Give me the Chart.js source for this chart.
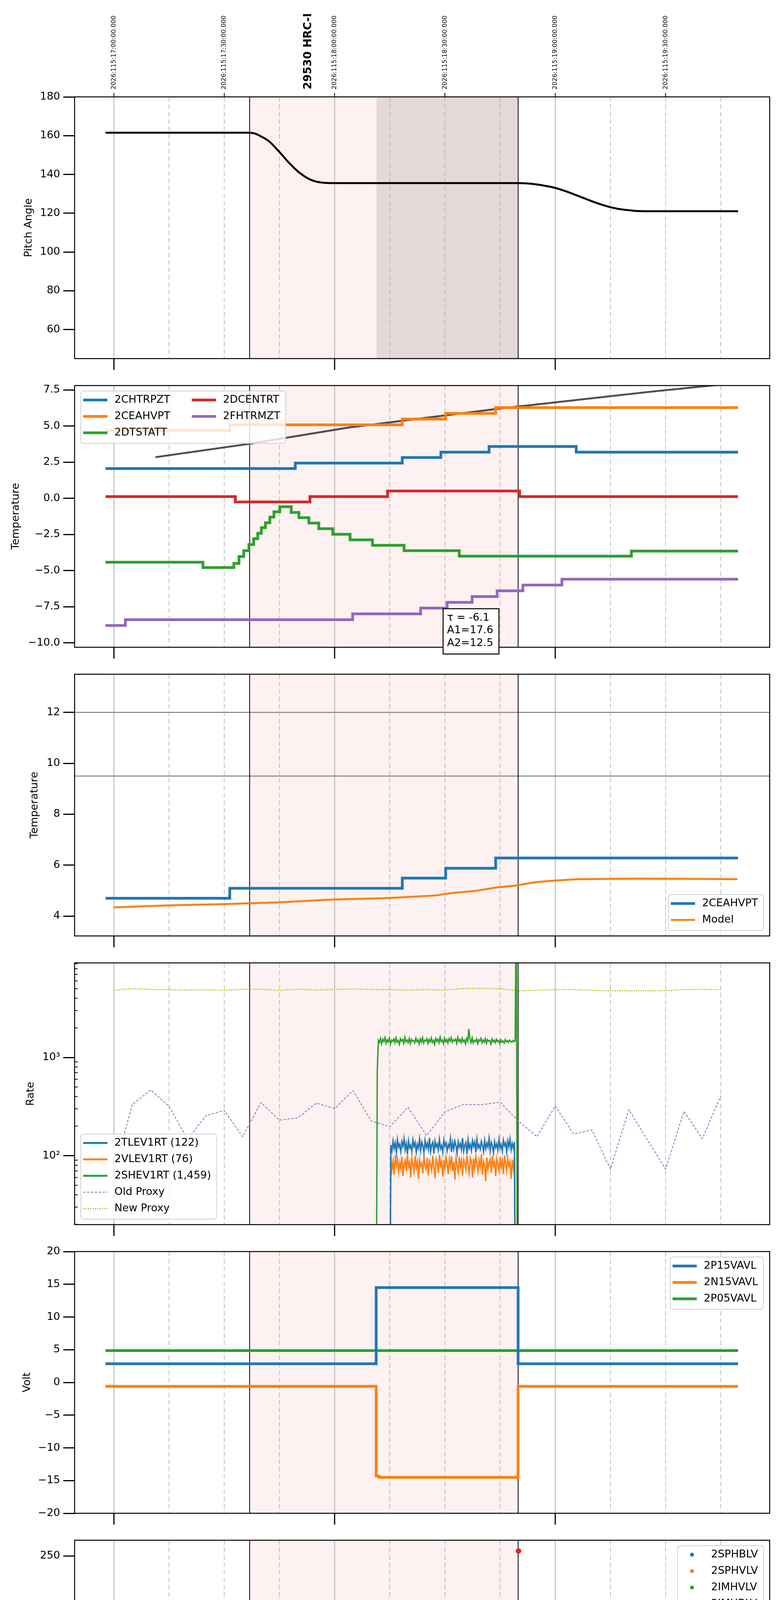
<!DOCTYPE html>
<html>
<head>
<meta charset="utf-8">
<script src="https://cdn.jsdelivr.net/npm/chart.js@4.4.0/dist/chart.umd.min.js"></script>
<style>
html, body { margin: 0; padding: 0; background: #fff; }
#page { position: relative; width: 2000px; height: 6200px; }
#page canvas { position: absolute; left: 0; }
</style>
</head>
<body>
<div id="page"></div>
<script>
// time axis: minutes after 13:00 local (= 17:00 on board)
const X_MIN = -10.7, X_MAX = 178.3;
const HOUR_TICKS = [0, 60, 120];
const HOUR_LABELS = ['13h', '14h', '15h'];
const QUARTER_TICKS = [15, 30, 45, 75, 90, 105, 135, 150, 165];
const QUARTER_LABELS = ['15', '30', '45', '15', '30', '45', '15', '30', '45'];
const TOP_TICKS = [0, 30, 60, 90, 120, 150];
const TOP_LABELS = ['2026:115:17:00:00.000', '2026:115:17:30:00.000', '2026:115:18:00:00.000',
                    '2026:115:18:30:00.000', '2026:115:19:00:00.000', '2026:115:19:30:00.000'];
const X_TITLE = '2026-04-25 (115)';
const OBS_TITLE = '29530 HRC-I';
const OBS_TITLE_AT = 52.9;
const WINDOW = [36.9, 109.9];
const SLEW_WINDOW = [71.4, 109.9];

// pitch
const pitchT = [-2.3, 36.8, 38.5, 39.4, 42.1, 44.7, 47.6, 50.3, 53.0, 55.0, 57.0, 60.0, 110.0, 112.6,
                114.6, 117.0, 119.9, 123.0, 126.1, 128.8, 131.5, 134.2, 136.9, 139.6, 142.4, 146.0, 169.7];
const pitchV = [161.5, 161.5, 161.0, 160.2, 157.2, 152.2, 146.0, 141.1, 137.7, 136.3, 135.7, 135.5, 135.5, 135.3,
                134.9, 134.2, 133.1, 131.2, 129.0, 127.0, 125.1, 123.5, 122.3, 121.6, 121.1, 121.0, 121.0];

// temperatures (step telemetry: time of change, new value)
const chtrpztT = [-2.3, 49.3, 78.4, 88.9, 102.0, 125.7, 169.7];
const chtrpztV = [2.06, 2.44, 2.83, 3.2, 3.59, 3.2, 3.2];
const ceahvptT = [-2.3, 31.5, 78.4, 90.2, 103.8, 169.7];
const ceahvptV = [4.70, 5.09, 5.49, 5.88, 6.28, 6.28];
const dtstattT = [-2.3, 24.2, 32.6, 34.0, 35.3, 36.7, 38.0, 39.1, 40.1, 41.2, 42.4, 43.5, 45.1, 48.2,
                  50.3, 53.0, 55.7, 59.5, 64.2, 70.3, 78.9, 93.9, 140.7, 169.7];
const dtstattV = [-4.42, -4.79, -4.5, -4.03, -3.62, -3.2, -2.79, -2.42, -2.03, -1.69, -1.3, -0.93, -0.58, -0.97,
                  -1.34, -1.71, -2.1, -2.49, -2.87, -3.25, -3.62, -4.0, -3.65, -3.65];
const dcentrtT = [-2.3, 33.0, 53.3, 74.4, 110.3, 169.7];
const dcentrtV = [0.12, -0.25, 0.12, 0.51, 0.12, 0.12];
const fhtrmztT = [-2.3, 3.1, 64.9, 83.4, 90.6, 97.4, 104.2, 111.2, 121.8, 169.7];
const fhtrmztV = [-8.8, -8.4, -8.0, -7.6, -7.2, -6.8, -6.4, -6.0, -5.6, -5.6];
const fitT = [11.3, 36.7, 63.8, 104.4, 145.1, 164.0];
const fitV = [2.85, 3.77, 4.9, 6.2, 7.36, 7.85];
const FIT_NOTE = ['\u03c4 = -6.1', 'A1=17.6', 'A2=12.5'];
const modelT = [-0.1, 15.0, 30.0, 44.8, 59.7, 74.6, 87.5, 92.2, 98.4, 103.8, 109.2, 114.6, 119.4, 126.1, 142.4, 158.6, 169.5];
const modelV = [4.34, 4.42, 4.47, 4.54, 4.65, 4.71, 4.81, 4.91, 4.99, 5.12, 5.20, 5.33, 5.39, 5.45, 5.47, 5.46, 5.45];
const LIMITS_T = [12, 9.5];

// rates, sampled every 0.3 min
const RATE_DT = 0.3;
const TLEV_T0 = 75.0;
const tlev1rt = [1, 128, 112, 141, 118, 135, 108, 146, 122, 131,
  110, 139, 125, 150, 115, 133, 104, 142, 120, 128,
  111, 145, 124, 136, 109, 131, 119, 148, 113, 138,
  126, 107, 143, 121, 134, 116, 152, 110, 129, 137,
  105, 140, 123, 132, 114, 147, 118, 127, 108, 144,
  125, 135, 112, 130, 121, 149, 109, 137, 117, 141,
  126, 106, 139, 122, 133, 115, 151, 111, 128, 136,
  104, 145, 119, 131, 113, 142, 124, 138, 108, 147,
  120, 129, 116, 140, 127, 110, 143, 118, 134, 122,
  150, 112, 137, 125, 107, 139, 121, 132, 114, 146,
  119, 130, 111, 144, 126, 135, 109, 141, 123, 148,
  115, 133, 120, 138, 1];
const vlev1rt = [1, 96, 72, 88, 64, 101, 79, 92, 68, 85,
  74, 98, 62, 83, 90, 70, 103, 77, 86, 60,
  94, 81, 69, 99, 75, 87, 58, 91, 78, 84,
  66, 97, 80, 73, 95, 63, 89, 82, 71, 100,
  76, 59, 93, 85, 67, 102, 79, 88, 61, 90,
  74, 96, 83, 65, 92, 78, 99, 70, 86, 57,
  94, 81, 68, 97, 76, 89, 63, 91, 84, 72,
  101, 79, 66, 95, 87, 60, 93, 75, 98, 82,
  69, 90, 77, 103, 64, 88, 80, 55, 96, 73,
  85, 92, 67, 99, 78, 86, 62, 94, 81, 71,
  97, 76, 89, 65, 100, 83, 70, 93, 79, 87,
  58, 91, 74, 96, 1];
const SHEV_T0 = 71.3;
const shev1rt = [1, 720, 1490, 1420, 1560, 1380, 1530, 1450, 1590, 1400,
  1510, 1440, 1570, 1370, 1500, 1460, 1540, 1410, 1580, 1430,
  1490, 1360, 1550, 1470, 1520, 1390, 1600, 1440, 1500, 1420,
  1560, 1380, 1530, 1460, 1490, 1410, 1570, 1450, 1510, 1370,
  1540, 1430, 1590, 1400, 1500, 1470, 1550, 1390, 1520, 1440,
  1580, 1420, 1490, 1360, 1560, 1460, 1530, 1410, 1610, 1450,
  1500, 1380, 1570, 1440, 1520, 1400, 1550, 1470, 1590, 1430,
  1510, 1480, 1540, 1390, 1600, 1450, 1520, 1410, 1570, 1440,
  1500, 1370, 1560, 1460, 1950, 1530, 1420, 1580, 1400, 1490,
  1450, 1540, 1380, 1510, 1470, 1560, 1410, 1500, 1430, 1550,
  1390, 1520, 1460, 1480, 1370, 1540, 1440, 1500, 1410, 1530,
  1450, 1490, 1380, 1510, 1430, 1470, 1400, 1520, 1440, 1480,
  1420, 1500, 1460, 1430, 1490, 1450, 1470, 60000, 1];
// proxies, every 5 min from 13:00
const PROXY_T0 = 0, PROXY_DT = 5;
const oldProxy = [70, 332, 466, 318, 146, 256, 289, 156, 347, 230, 243, 343, 302, 459, 225, 198, 311,
                  160, 280, 332, 330, 350, 225, 156, 321, 166, 183, 73, 294, 146, 73, 283, 149, 407];
const newProxy = [4840, 5030, 4920, 4880, 4860, 4880, 4800, 4940, 4940, 4800, 4940, 4840, 4920, 4965, 4920, 4900, 4840,
                  4900, 4840, 5030, 5030, 5000, 4760, 4820, 4880, 4900, 4820, 4760, 4760, 4760, 4780, 4920, 4920, 4900];
const RATE_MAJOR = [100, 1000];
const RATE_MINOR = [20, 30, 40, 50, 60, 70, 80, 90, 200, 300, 400, 500, 600, 700, 800, 900,
                    2000, 3000, 4000, 5000, 6000, 7000, 8000, 9000];

// voltages
const p15vavlT = [-2.3, 71.3, 109.9, 169.7];
const p15vavlV = [2.85, 14.5, 2.85, 2.85];
const n15vavlT = [-2.3, 71.3, 72.0, 109.9, 169.7];
const n15vavlV = [-0.6, -14.3, -14.5, -0.6, -0.6];
const p05vavlT = [-2.3, 169.7];
const p05vavlV = [4.87, 4.87];

// HV monitor
const imhblvT = [72.7, 72.75, 73.1, 73.9, 74.6, 75.2, 75.7, 110.0];
const imhblvV = [126.6, 119.1, 105.4, 101.1, 97.0, 92.9, 89.1, 255.1];
const imhvlvT = [73.0, 73.7, 74.4, 75.0, 75.7];
const imhvlvV = [99.3, 95.1, 89.9, 85.8, 82.4];
const HV_T0 = 76.0, HV_DT = 0.5;
const imhblvSteady = [85.2, 85.2, 85.2, 85.2, 85.2, 85.2, 85.2, 85.2, 85.2, 85.2,
  85.2, 85.2, 85.2, 85.2, 85.2, 85.2, 85.2, 85.2, 85.2, 85.2,
  85.2, 85.2, 85.2, 85.2, 85.2, 85.2, 85.2, 85.2, 85.2, 85.2,
  85.2, 85.2, 85.2, 85.2, 85.2, 85.2, 85.2, 85.2, 85.2, 85.2,
  85.2, 85.2, 85.2, 85.2, 85.2, 85.2, 85.2, 85.2, 85.2, 85.2,
  85.2, 85.2, 85.2, 85.2, 85.2, 85.2, 85.2, 85.2, 85.2, 85.2,
  85.2, 85.2, 85.2, 85.2, 85.2, 85.2, 85.2, 85.2];
const imhvlvSteady = [78.8, 78.8, 78.8, 78.8, 78.8, 78.8, 78.8, 78.8, 78.8, 78.8,
  78.8, 78.8, 78.8, 78.8, 78.8, 78.8, 78.8, 78.8, 78.8, 78.8,
  78.8, 78.8, 78.8, 78.8, 78.8, 78.8, 78.8, 78.8, 78.8, 78.8,
  78.8, 78.8, 78.8, 78.8, 78.8, 78.8, 78.8, 78.8, 78.8, 78.8,
  78.8, 78.8, 78.8, 78.8, 78.8, 78.8, 78.8, 78.8, 78.8, 78.8,
  78.8, 78.8, 78.8, 78.8, 78.8, 78.8, 78.8, 78.8, 78.8, 78.8,
  78.8, 78.8, 78.8, 78.8, 78.8, 78.8, 78.8, 78.8];

// detector temps
const spinatmT = [72.2, 72.5, 74.4, 88.8, 109.3];
const spinatmV = [2.68, 3.17, 2.68, 2.2, 2.2];
const sphvatmT = [71.5, 71.7, 105.1, 109.3];
const sphvatmV = [12.7, 13.28, 13.61, 13.61];
const iminatmT = [71.5, 93.6, 109.3];
const iminatmV = [-0.54, -0.09, -0.09];
const imhvatmT = [71.4, 71.5, 82.5, 88.5, 94.3, 100.4, 106.9, 110.0, 110.5];
const imhvatmV = [-30, 12.61, 12.95, 13.28, 13.61, 13.98, 14.3, 60, -30];

// FEA temps
const fradpytT = [-2.3, 12.3, 57.0, 77.1, 84.3, 90.6, 97.0, 103.8, 110.0, 146.8, 167.4, 169.7];
const fradpytV = [-10.49, -10.07, -9.65, -9.22, -8.81, -8.4, -8.0, -7.59, -7.19, -7.59, -8.0, -8.0];
const fepratmT = [71.3, 71.35, 74.0, 76.4, 78.7, 82.1, 85.5, 89.9, 94.7, 100.4, 106.1, 109.4, 109.5];
const fepratmV = [-9.26, -8.55, -8.14, -7.71, -7.30, -6.88, -6.47, -6.05, -5.63, -5.22, -4.79, -7.0, -7.0];
const fe00atmT = [71.4, 71.5, 78.7, 81.1, 81.2, 84.1, 89.3, 91.5, 91.6, 93.9, 95.4, 95.5, 98.7, 103.5,
                  106.2, 106.3, 108.5, 110.0, 110.5];
const fe00atmV = [-20, -9.32, -8.94, -9.71, -8.94, -8.58, -8.21, -8.6, -8.21, -7.85, -7.47, -7.85, -7.49, -7.11,
                  -7.5, -7.11, -6.76, -2, -20];

const BLUE = '#1f77b4', ORANGE = '#ff7f0e', GREEN = '#2ca02c', RED = '#d62728', PURPLE = '#9467bd', OLIVE = '#bcbd22';
const FONT = 'DejaVu Sans';
const PANEL_TOP = [248, 987, 1726, 2465, 3204, 3943, 4681, 5420];
const PANEL_H = 670;

Chart.defaults.font.family = FONT;
Chart.defaults.color = '#000';

const pts = (ts, vs) => ts.map((t, i) => ({x: t, y: vs[i]}));
const cadence = (t0, dt, vs) => vs.map((v, i) => ({x: t0 + i * dt, y: v}));

function line(label, data, color, width, extra) {
  return Object.assign({label, data, borderColor: color, backgroundColor: color, borderWidth: width,
    pointRadius: 0, fill: false, tension: 0, clip: 0}, extra || {});
}
// value holds from its own time until the next sample
const step = (label, ts, vs, color, width) => line(label, pts(ts, vs), color, width || 7, {stepped: 'before'});
function dots(label, data, color) {
  return {label, data, showLine: false, pointRadius: 7, pointHoverRadius: 7, pointBorderWidth: 0,
    backgroundColor: color, borderColor: color};
}

const minus = s => s.replace('-', '\u2212');
const fmtInt = v => minus(String(v));
const fmt1 = v => minus(v.toFixed(1));
const fmtPow = v => (v === 100 ? '10\u00b2' : v === 1000 ? '10\u00b3' : '');

function yAxis(min, max, ticks, fmt, title, titleX, type) {
  return {
    type: type || 'linear', min, max,
    afterFit: s => { s.width = 191; },
    afterBuildTicks: s => { s.ticks = ticks.map(v => ({value: v})); },
    ticks: {callback: fmt, font: {size: 27}, color: '#000', padding: 8, autoSkip: false},
    grid: {drawOnChartArea: false, drawTicks: true, tickLength: 29, tickWidth: 3, tickColor: '#000', lineWidth: 3},
    border: {display: false},
    title: {display: true, text: title, font: {size: 27}, color: '#000', padding: {top: titleX - 16.2, bottom: 0}}
  };
}

function drawLegend(chart, lg) {
  const {ctx, chartArea: a} = chart;
  const items = chart.data.datasets.filter(d => d.label);
  const ncol = lg.ncol || 1;
  const nrow = Math.ceil(items.length / ncol);
  ctx.save();
  ctx.font = '27px "' + FONT + '"';
  const cols = [];
  for (let c = 0; c < ncol; c++) cols.push(items.slice(c * nrow, (c + 1) * nrow));
  const colW = cols.map(col => Math.max(...col.map(d => ctx.measureText(d.label).width)));
  let w = 6;
  colW.forEach((cw, c) => { w += 80 + cw + (c < ncol - 1 ? 55 : 14); });
  const h = 23 + (nrow - 1) * 42 + 27;
  const bx = lg.loc[1] === 'l' ? a.left + 16 : a.right - 16 - w;
  const by = lg.loc[0] === 'u' ? a.top + 14 : a.bottom - 14 - h;
  ctx.beginPath();
  ctx.roundRect(bx, by, w, h, 7);
  ctx.fillStyle = 'rgba(255,255,255,0.8)';
  ctx.fill();
  ctx.strokeStyle = 'rgba(204,204,204,0.9)';
  ctx.lineWidth = 2;
  ctx.stroke();
  let cx = bx + 6;
  cols.forEach((col, c) => {
    col.forEach((d, r) => {
      const cy = by + 23 + r * 42;
      if (d.showLine === false) {
        ctx.fillStyle = d.backgroundColor;
        ctx.beginPath();
        ctx.arc(cx + 31, cy, 5, 0, Math.PI * 2);
        ctx.fill();
      } else {
        ctx.strokeStyle = d.borderColor;
        ctx.lineWidth = d.legendWidth || d.borderWidth;
        ctx.setLineDash(d.borderDash || []);
        ctx.beginPath();
        ctx.moveTo(cx, cy);
        ctx.lineTo(cx + 62, cy);
        ctx.stroke();
        ctx.setLineDash([]);
      }
      ctx.fillStyle = '#000';
      ctx.textAlign = 'left';
      ctx.textBaseline = 'middle';
      ctx.fillText(d.label, cx + 80, cy);
    });
    cx += 80 + colW[c] + 55;
  });
  ctx.restore();
}

const panelDecor = {
  id: 'panelDecor',
  beforeDatasetsDraw(chart, args, o) {
    const {ctx, chartArea: a, scales: {x, y}} = chart;
    const px = v => x.getPixelForValue(v);
    const vline = xp => { ctx.beginPath(); ctx.moveTo(xp, a.top); ctx.lineTo(xp, a.bottom); ctx.stroke(); };
    ctx.save();
    ctx.beginPath();
    ctx.rect(a.left, a.top, a.width, a.height);
    ctx.clip();
    ctx.fillStyle = '#fdf1f1';
    ctx.fillRect(px(WINDOW[0]), a.top, px(WINDOW[1]) - px(WINDOW[0]), a.height);
    if (o.slew) {
      ctx.fillStyle = '#e4d9d9';
      ctx.fillRect(px(SLEW_WINDOW[0]), a.top, px(SLEW_WINDOW[1]) - px(SLEW_WINDOW[0]), a.height);
    }
    ctx.strokeStyle = '#b0b0b0';
    ctx.lineWidth = 2;
    HOUR_TICKS.forEach(t => vline(px(t)));
    ctx.lineWidth = 1.6;
    ctx.setLineDash([12, 7]);
    QUARTER_TICKS.forEach(t => vline(px(t)));
    ctx.setLineDash([]);
    (o.hlines || []).forEach(v => {
      const yp = y.getPixelForValue(v);
      ctx.strokeStyle = '#808080';
      ctx.lineWidth = 2.5;
      ctx.beginPath(); ctx.moveTo(a.left, yp); ctx.lineTo(a.right, yp); ctx.stroke();
    });
    ctx.strokeStyle = '#000';
    ctx.lineWidth = 2;
    WINDOW.forEach(t => vline(px(t)));
    ctx.restore();
  },
  afterDatasetsDraw(chart, args, o) {
    const {ctx, chartArea: a, scales: {x, y}} = chart;
    const px = v => x.getPixelForValue(v);
    ctx.save();
    // spines
    ctx.strokeStyle = '#000';
    ctx.lineWidth = 2.5;
    ctx.strokeRect(a.left, a.top, a.width, a.height);
    // bottom hour ticks
    ctx.lineWidth = 3;
    HOUR_TICKS.forEach(t => {
      ctx.beginPath(); ctx.moveTo(px(t), a.bottom); ctx.lineTo(px(t), a.bottom + 29); ctx.stroke();
    });
    if (o.logMinor) {
      ctx.lineWidth = 2;
      o.logMinor.forEach(v => {
        const yp = y.getPixelForValue(v);
        ctx.beginPath(); ctx.moveTo(a.left - 1, yp); ctx.lineTo(a.left + 8, yp); ctx.stroke();
      });
    }
    if (o.top) {
      ctx.lineWidth = 2;
      ctx.fillStyle = '#000';
      ctx.textAlign = 'left';
      ctx.textBaseline = 'middle';
      ctx.font = '16px "' + FONT + '"';
      TOP_TICKS.forEach((t, k) => {
        ctx.beginPath(); ctx.moveTo(px(t), a.top); ctx.lineTo(px(t), a.top - 10); ctx.stroke();
        ctx.save();
        ctx.translate(px(t), a.top - 19);
        ctx.rotate(-Math.PI / 2);
        ctx.fillText(TOP_LABELS[k], 0, 0);
        ctx.restore();
      });
      ctx.font = 'bold 28px "' + FONT + '"';
      ctx.save();
      ctx.translate(px(OBS_TITLE_AT), a.top - 19);
      ctx.rotate(-Math.PI / 2);
      ctx.fillText(OBS_TITLE, 0, 0);
      ctx.restore();
    }
    if (o.bottom) {
      ctx.fillStyle = '#000';
      ctx.textAlign = 'center';
      ctx.textBaseline = 'middle';
      ctx.font = '18px "' + FONT + '"';
      QUARTER_TICKS.forEach((t, k) => ctx.fillText(QUARTER_LABELS[k], px(t), a.bottom + 16));
      ctx.font = '27px "' + FONT + '"';
      HOUR_TICKS.forEach((t, k) => ctx.fillText(HOUR_LABELS[k], px(t), a.bottom + 50));
      ctx.font = '34px "' + FONT + '"';
      ctx.fillText(X_TITLE, (a.left + a.right) / 2, a.bottom + 90);
    }
    if (o.note) {
      const n = o.note;
      const nx = px(n.x), ny = y.getPixelForValue(n.y);
      ctx.fillStyle = '#fff';
      ctx.fillRect(nx, ny, n.w, n.h);
      ctx.strokeStyle = '#000';
      ctx.lineWidth = 2.5;
      ctx.strokeRect(nx, ny, n.w, n.h);
      ctx.fillStyle = '#000';
      ctx.textAlign = 'left';
      ctx.textBaseline = 'middle';
      ctx.font = '27px "' + FONT + '"';
      n.lines.forEach((s, k) => ctx.fillText(s, nx + 10, ny + 23.5 + k * 32.5));
    }
    ctx.restore();
    if (o.legend) drawLegend(chart, o.legend);
  }
};

const page = document.getElementById('page');

function addPanel(i, datasets, yCfg, deco) {
  const top = PANEL_TOP[i];
  const cTop = i === 0 ? 0 : top - 60;
  const cBot = i === PANEL_TOP.length - 1 ? 6200 : top + PANEL_H + 60;
  const canvas = document.createElement('canvas');
  canvas.width = 2000;
  canvas.height = cBot - cTop;
  canvas.style.top = cTop + 'px';
  canvas.style.width = '2000px';
  canvas.style.height = (cBot - cTop) + 'px';
  page.appendChild(canvas);
  return new Chart(canvas, {
    type: 'line',
    data: {datasets},
    options: {
      responsive: false,
      animation: false,
      devicePixelRatio: 1,
      events: [],
      layout: {padding: {left: 0, right: 29, top: top - cTop, bottom: cBot - top - PANEL_H}},
      scales: {
        x: {type: 'linear', min: X_MIN, max: X_MAX, display: false},
        y: yCfg
      },
      plugins: {legend: {display: false}, tooltip: {enabled: false}, panelDecor: deco}
    },
    plugins: [panelDecor]
  });
}

// 1: pitch
addPanel(0, [
  line('', pts(pitchT, pitchV), '#000', 5, {cubicInterpolationMode: 'monotone'})
], yAxis(45, 180, [60, 80, 100, 120, 140, 160, 180], fmtInt, 'Pitch Angle', 74), {slew: true, top: true});

// 2: temperatures
addPanel(1, [
  step('2CHTRPZT', chtrpztT, chtrpztV, BLUE),
  step('2CEAHVPT', ceahvptT, ceahvptV, ORANGE),
  step('2DTSTATT', dtstattT, dtstattV, GREEN),
  step('2DCENTRT', dcentrtT, dcentrtV, RED),
  step('2FHTRMZT', fhtrmztT, fhtrmztV, PURPLE),
  line('', pts(fitT, fitV), 'rgba(60,60,60,0.9)', 5)
], yAxis(-10.31, 7.81, [-10, -7.5, -5, -2.5, 0, 2.5, 5, 7.5], fmt1, 'Temperature', 41),
  {legend: {loc: 'ul', ncol: 2}, note: {x: 89.5, y: -7.64, w: 143, h: 116, lines: FIT_NOTE}});

// 3: 2CEAHVPT vs model
addPanel(2, [
  step('2CEAHVPT', ceahvptT, ceahvptV, BLUE),
  line('Model', pts(modelT, modelV), ORANGE, 5)
], yAxis(3.22, 13.5, [4, 6, 8, 10, 12], fmtInt, 'Temperature', 89),
  {hlines: LIMITS_T, legend: {loc: 'lr', ncol: 1}});

// 4: rates
addPanel(3, [
  line('2TLEV1RT (122)', cadence(TLEV_T0, RATE_DT, tlev1rt), BLUE, 3.5, {legendWidth: 5}),
  line('2VLEV1RT (76)', cadence(TLEV_T0, RATE_DT, vlev1rt), ORANGE, 3.5, {legendWidth: 5}),
  line('2SHEV1RT (1,459)', cadence(SHEV_T0, RATE_DT, shev1rt), GREEN, 3.5, {legendWidth: 5}),
  line('Old Proxy', cadence(PROXY_T0, PROXY_DT, oldProxy), PURPLE, 2, {borderDash: [6, 4]}),
  line('New Proxy', cadence(PROXY_T0, PROXY_DT, newProxy), OLIVE, 3, {borderDash: [3, 3]})
], yAxis(19.9, 9160, RATE_MAJOR, fmtPow, 'Rate', 79, 'logarithmic'),
  {logMinor: RATE_MINOR, legend: {loc: 'll', ncol: 1}});

// 5: voltages
addPanel(4, [
  step('2P15VAVL', p15vavlT, p15vavlV, BLUE),
  step('2N15VAVL', n15vavlT, n15vavlV, ORANGE),
  step('2P05VAVL', p05vavlT, p05vavlV, GREEN)
], yAxis(-20, 20, [-20, -15, -10, -5, 0, 5, 10, 15, 20], fmtInt, 'Volt', 70),
  {legend: {loc: 'ur', ncol: 1}});

// 6: HV monitor
addPanel(5, [
  dots('2SPHBLV', [], BLUE),
  dots('2SPHVLV', [], ORANGE),
  dots('2IMHVLV', pts(imhvlvT, imhvlvV).concat(cadence(HV_T0, HV_DT, imhvlvSteady)), GREEN),
  dots('2IMHBLV', pts(imhblvT, imhblvV).concat(cadence(HV_T0, HV_DT, imhblvSteady)), RED)
], yAxis(0, 266, [0, 50, 100, 150, 200, 250], fmtInt, 'HV Monitor', 74),
  {legend: {loc: 'ur', ncol: 1}});

// 7: detector temps
addPanel(6, [
  step('2SPINATM', spinatmT, spinatmV, BLUE),
  step('2SPHVATM', sphvatmT, sphvatmV, ORANGE),
  step('2IMINATM', iminatmT, iminatmV, GREEN),
  step('2IMHVATM', imhvatmT, imhvatmV, RED)
], yAxis(-2.04, 15.12, [-2, 0, 2, 4, 6, 8, 10, 12, 14], fmtInt, 'Detector Temp', 84),
  {legend: {loc: 'ur', ncol: 1}});

// 8: FEA temps
addPanel(7, [
  step('2FHTRMZT', fhtrmztT, fhtrmztV, BLUE),
  step('2FRADPYT', fradpytT, fradpytV, ORANGE),
  step('2FEPRATM', fepratmT, fepratmV, GREEN),
  step('2FE00ATM', fe00atmT, fe00atmV, RED)
], yAxis(-10.73, -4.13, [-10, -9, -8, -7, -6, -5], fmtInt, 'FEA Temp', 66),
  {legend: {loc: 'ul', ncol: 1}, bottom: true});
</script>
</body>
</html>
